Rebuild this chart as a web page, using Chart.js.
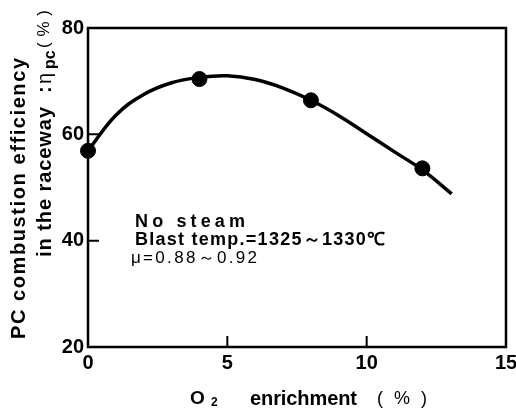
<!DOCTYPE html>
<html>
<head>
<meta charset="utf-8">
<script src="https://cdn.jsdelivr.net/npm/chart.js@4.4.1/dist/chart.umd.min.js"></script>
<style>
  html, body { margin: 0; padding: 0; background: #fff; }
</style>
</head>
<body>
<canvas id="effChart" width="516" height="408"></canvas>
<script>
// measured points (O2 enrichment %, combustion efficiency %)
const o2Measured = [0, 4, 8, 12];
const effMeasured = [56.9, 70.4, 66.4, 53.6];

// fitted curve
const o2Curve = [0, 1, 2, 3, 4, 5, 6, 7, 8, 9, 10, 11, 12, 13.05];
const effCurve = [56.9, 63.6, 67.5, 69.7, 70.7, 71.0, 70.3, 68.7, 66.4, 63.5, 60.1, 56.7, 53.3, 48.8];

const xTicks = [0, 5, 10, 15];
const yTicks = [20, 40, 60, 80];

const BOLD = "bold 20px 'Liberation Sans', Arial, sans-serif";
const TICK_FONT = { family: "'Liberation Sans', sans-serif", size: 20, weight: 'bold' };

// draws text char by char so that it fills the given width
function spacedText(ctx, text, x, y, width) {
    const chars = Array.from(text);
    const widths = chars.map(c => ctx.measureText(c).width);
    const total = widths.reduce((a, b) => a + b, 0);
    const gap = chars.length > 1 ? (width - total) / (chars.length - 1) : 0;
    let cx = x;
    chars.forEach((c, i) => {
        ctx.fillText(c, cx, y);
        cx += widths[i] + gap;
    });
}

const framePlugin = {
    id: 'frame',
    afterDraw(chart) {
        const ctx = chart.ctx;
        const a = chart.chartArea;
        const xs = chart.scales.x, ys = chart.scales.y;
        ctx.save();
        ctx.strokeStyle = '#000';
        ctx.lineWidth = 2.5;
        ctx.strokeRect(a.left, a.top, a.right - a.left, a.bottom - a.top);
        // inward tick marks
        ctx.lineWidth = 2;
        ctx.beginPath();
        yTicks.slice(1, -1).forEach(v => {
            const py = ys.getPixelForValue(v);
            ctx.moveTo(a.left, py);
            ctx.lineTo(a.left + 11, py);
        });
        xTicks.slice(1, -1).forEach(v => {
            const px = xs.getPixelForValue(v);
            ctx.moveTo(px, a.bottom);
            ctx.lineTo(px, a.bottom - 11);
        });
        ctx.stroke();

        ctx.fillStyle = '#000';
        ctx.textBaseline = 'middle';
        ctx.textAlign = 'left';

        // y title, line 1
        ctx.save();
        ctx.translate(19, 339);
        ctx.rotate(-Math.PI / 2);
        ctx.font = BOLD;
        spacedText(ctx, 'PC combustion efficiency', 0, 0, 281);
        ctx.restore();

        // y title, line 2
        ctx.save();
        ctx.translate(45, 257);
        ctx.rotate(-Math.PI / 2);
        ctx.font = BOLD;
        spacedText(ctx, 'in the raceway', 0, 0, 150);
        ctx.fillText(':', 164, 0);
        ctx.font = "20px 'Liberation Sans', sans-serif";
        ctx.fillText('η', 173, 0);
        ctx.font = "bold 16px 'Liberation Sans', sans-serif";
        ctx.fillText('pc', 188, 6);
        ctx.font = "17px 'Liberation Sans', sans-serif";
        spacedText(ctx, '(%)', 209, -1, 38);
        ctx.restore();

        // x title
        ctx.font = "bold 19px 'Liberation Sans', sans-serif";
        ctx.fillText('O', 190, 399);
        ctx.font = "bold 12px 'Liberation Sans', sans-serif";
        ctx.fillText('2', 211, 403);
        ctx.font = BOLD;
        spacedText(ctx, 'enrichment', 250, 399, 107);
        ctx.font = "18px 'Liberation Sans', sans-serif";
        spacedText(ctx, '(%)', 377, 399, 50);

        // notes
        ctx.font = "bold 18px 'Liberation Sans', sans-serif";
        spacedText(ctx, 'No steam', 135, 222, 110);
        spacedText(ctx, 'Blast temp.=1325～1330℃', 135, 240, 250);
        ctx.font = "17px 'Liberation Sans', sans-serif";
        spacedText(ctx, 'μ=0.88～0.92', 131, 258, 126);
        ctx.restore();
    }
};

const ctx = document.getElementById('effChart').getContext('2d');
const effChart = new Chart(ctx, {
    type: 'scatter',
    data: {
        datasets: [{
            label: 'fit',
            data: o2Curve.map((x, i) => ({ x: x, y: effCurve[i] })),
            showLine: true,
            borderColor: '#000',
            borderWidth: 3.5,
            pointRadius: 0,
            tension: 0.4,
            clip: false,
            order: 2
        }, {
            label: 'measured',
            data: o2Measured.map((x, i) => ({ x: x, y: effMeasured[i] })),
            pointRadius: 7.5,
            pointBackgroundColor: '#000',
            pointBorderColor: '#000',
            clip: false,
            order: 1
        }]
    },
    options: {
        responsive: false,
        animation: false,
        events: [],
        layout: { padding: { top: 28, right: 10, left: 0, bottom: 0 } },
        plugins: { legend: { display: false }, tooltip: { enabled: false } },
        scales: {
            x: {
                type: 'linear', min: 0, max: 15,
                grid: { display: false, drawTicks: false },
                border: { display: false },
                ticks: { color: '#000', font: TICK_FONT, padding: 4 },
                afterBuildTicks: s => { s.ticks = xTicks.map(v => ({ value: v })); },
                afterFit: s => { s.height = 61; s.paddingLeft = 0; s.paddingRight = 0; }
            },
            y: {
                type: 'linear', min: 20, max: 80,
                grid: { display: false, drawTicks: false },
                border: { display: false },
                ticks: { color: '#000', font: TICK_FONT, padding: 4 },
                afterBuildTicks: s => { s.ticks = yTicks.map(v => ({ value: v })); },
                afterFit: s => { s.width = 88; s.paddingTop = 0; s.paddingBottom = 0; }
            }
        }
    },
    plugins: [framePlugin]
});
</script>
</body>
</html>
